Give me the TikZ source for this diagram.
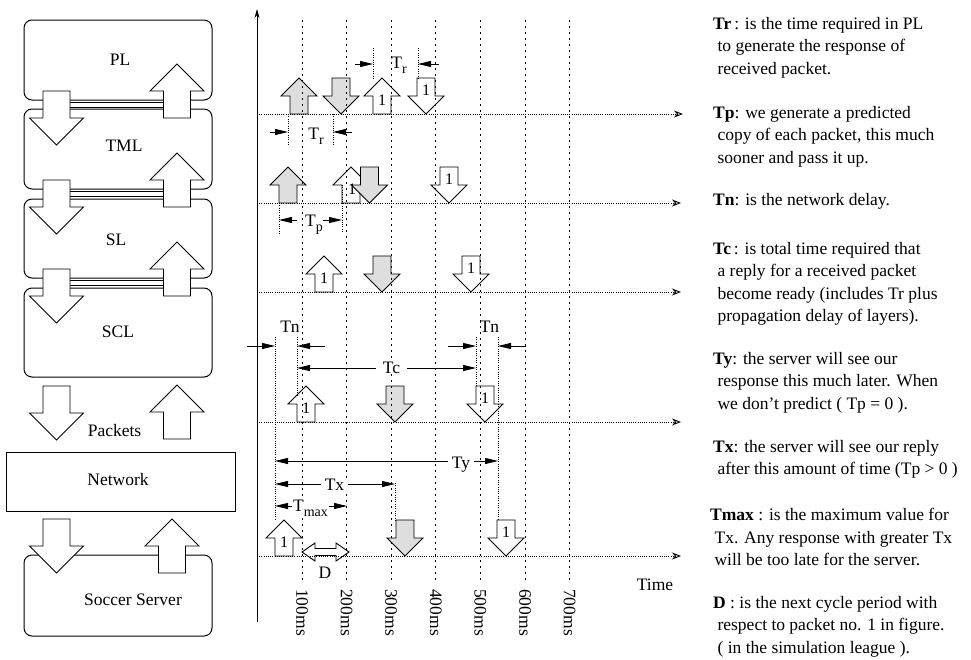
\documentclass[tikz,border=0pt]{standalone}
\usepackage{fontspec}
\setmainfont{Liberation Serif}
\usetikzlibrary{arrows.meta}
\newcommand{\BUp}[4][]{%
  \draw[blk,#1] ({#2-#4/4},{#3}) -- ({#2-#4/4},{#3-#4/2}) -- ({#2-#4/2},{#3-#4/2}) -- ({#2},{#3-#4}) -- ({#2+#4/2},{#3-#4/2}) -- ({#2+#4/4},{#3-#4/2}) -- ({#2+#4/4},{#3}) -- cycle;}
\newcommand{\BDown}[4][]{%
  \draw[blk,#1] ({#2-#4/4},{#3-#4}) -- ({#2-#4/4},{#3-#4/2}) -- ({#2-#4/2},{#3-#4/2}) -- ({#2},{#3}) -- ({#2+#4/2},{#3-#4/2}) -- ({#2+#4/4},{#3-#4/2}) -- ({#2+#4/4},{#3-#4}) -- cycle;}
\newcommand{\sbs}[1]{\raisebox{-5pt}{\fontsize{14}{14}\selectfont #1}}
\newcommand{\ind}{\hspace*{0.25em}}
\begin{document}
\begin{tikzpicture}[x=1pt,y=-1pt,
  box/.style={draw,line width=1pt,rounded corners=8pt,inner sep=0pt,minimum width=188pt},
  blk/.style={draw,line width=0.9pt,fill=white,line join=miter},
  grayfill/.style={fill=black!13},
  lbl/.style={font=\fontsize{17.5}{20}\selectfont,inner sep=0pt},
  dlbl/.style={lbl,anchor=base,fill=white,inner xsep=4pt,inner ysep=1pt},
  one/.style={font=\fontsize{16}{16}\selectfont,inner sep=0pt,anchor=base},
  link/.style={line width=1pt},
  rowline/.style={line width=0.9pt,dash pattern=on 1pt off 1.2pt,-{Stealth[open,length=9pt,width=7pt]}},
  tline/.style={line width=1pt,dash pattern=on 1.5pt off 4.5pt},
  ext/.style={line width=0.7pt,dash pattern=on 0.8pt off 1.5pt},
  dim/.style={line width=0.8pt,-{Triangle[length=13pt,width=6pt]}},
  dimboth/.style={line width=0.8pt,{Triangle[length=13pt,width=6pt]}-{Triangle[length=13pt,width=6pt]}},
  desc/.style={anchor=north west,align=left,inner sep=0pt,font=\fontsize{17.5}{22.5}\selectfont},
]
\useasboundingbox (0,0) rectangle (971,659);

% ---------------- left column ----------------
\node[box,minimum height=80pt] (PL) at (118,60) {};
\node[box,minimum height=80pt] (TML) at (118,149) {};
\node[box,minimum height=79pt] (SL) at (118,238.5) {};
\node[box,minimum height=89pt] (SCL) at (118,332.5) {};
\node[draw,line width=1pt,minimum width=229pt,minimum height=59pt,inner sep=0pt] (NET) at (120.5,481.5) {};
\node[box,minimum height=81pt] (SS) at (118,595.5) {};

\foreach \k/\ya/\yb in {1/102/107,2/191/196,3/280/285} {
  \coordinate (la\k) at (56,\ya); \coordinate (lb\k) at (177,\ya);
  \coordinate (lc\k) at (56,\yb); \coordinate (ld\k) at (177,\yb);
  \draw[link] (la\k) -- (lb\k);
  \draw[link] (lc\k) -- (ld\k);
}

\BDown{56.5}{145}{54} \BUp{177}{118}{54}
\BDown{56.5}{234}{54} \BUp{177}{207}{54}
\BDown{56.5}{323}{54} \BUp{177}{296}{54}
\BDown{56.5}{440}{54} \BUp{177}{439}{54}
\BDown{56.5}{573}{54} \BUp{172}{573}{54}

\node[lbl,anchor=base] (tPL) at (120,65.5) {PL};
\node[lbl,anchor=base] (tTML) at (124,151) {TML};
\node[lbl,anchor=base] (tSL) at (116,245) {SL};
\node[lbl,anchor=base] (tSCL) at (118,337) {SCL};
\node[lbl,anchor=base] (tPk) at (114.5,436) {Packets};
\node[lbl,anchor=base] (tNet) at (118,485) {Network};
\node[lbl,anchor=base] (tSS) at (133,605) {Soccer Server};

% ---------------- timeline: block arrows ----------------
% row 1
\BUp[grayfill]{299}{114}{36}
\BDown[grayfill]{341}{114}{36}
\BUp{382}{114}{36} \node[one] (o1a) at (382,105.5) {1};
\BDown{426}{114}{36} \node[one] (o1b) at (426,95) {1};
% row 2
\BUp[grayfill]{288}{203}{36}
\BUp{351}{203}{36} \node[one] (o2a) at (352,194.5) {1};
\BDown[grayfill]{369.5}{203}{36}
\BDown{449}{203}{36} \node[one] (o2b) at (449,184) {1};
% row 3
\BUp{324}{292}{36} \node[one] (o3a) at (324,283.5) {1};
\BDown[grayfill]{382}{292}{36}
\BDown{471}{292}{36} \node[one] (o3b) at (471,273) {1};
% row 4
\BUp{306}{422}{36} \node[one] (o4a) at (306,413.5) {1};
\BDown[grayfill]{395}{422}{36}
\BDown{485}{422}{36} \node[one] (o4b) at (485,403) {1};
% row 5
\BUp{284}{556}{36} \node[one] (o5a) at (284,547.5) {1};
\BDown[grayfill]{405}{556}{36}
\BDown{506}{556}{36} \node[one] (o5b) at (506,537) {1};
% D double arrow
\draw[blk] (302,552) -- (315,543) -- (315,548.5) -- (336,548.5) -- (336,543) -- (349,552) -- (336,561) -- (336,555.5) -- (315,555.5) -- (315,561) -- cycle;

% ---------------- grid lines ----------------
\foreach \i/\lab in {0/100,1/200,2/300,3/400,4/500,5/600,6/700} {
  \coordinate (vt\i) at ({302+44.6*\i},20);
  \coordinate (vb\i) at ({302+44.6*\i},583);
  \draw[tline] (vt\i) -- (vb\i);
  \node[lbl,rotate=-90,anchor=west] (ms\i) at ({302+44.6*\i},589) {\lab ms};
}
\foreach \i/\y/\e in {1/114/683,2/203/681,3/292/681,4/422/681,5/556/681} {
  \coordinate (rs\i) at (257,\y);
  \coordinate (re\i) at (\e,\y);
  \draw[rowline] (rs\i) -- (re\i);
}
\coordinate (ax0) at (257,622); \coordinate (ax1) at (257,9);
\draw[line width=0.9pt,-{Stealth[length=9pt,width=5pt]}] (ax0) -- (ax1);

% extension lines
\draw[ext] (373,48) -- (373,80);
\draw[ext] (418,48) -- (418,78);
\draw[ext] (288,114) -- (288,145);
\draw[ext] (333,114) -- (333,145);
\draw[ext] (279,203) -- (279,233);
\draw[ext] (342,185) -- (342,233);
\draw[ext] (275,337) -- (275,520);
\draw[ext] (297,337) -- (297,395);
\draw[ext] (476,337) -- (476,386);
\draw[ext] (498,337) -- (498,520);
\draw[ext] (395,483) -- (395,520);

% ---------------- dimension arrows ----------------
\coordinate (a1) at (355,64); \coordinate (b1) at (373,64);
\coordinate (a2) at (439,64); \coordinate (b2) at (418,64);
\draw[dim] (a1) -- (b1); \draw[dim] (a2) -- (b2);
\node[lbl,anchor=base] (Tr1) at (399,68) {T\sbs{r}};

\coordinate (a3) at (270,132); \coordinate (b3) at (288,132);
\coordinate (a4) at (352,132); \coordinate (b4) at (333,132);
\draw[dim] (a3) -- (b3); \draw[dim] (a4) -- (b4);
\node[lbl,anchor=base] (Tr2) at (316,139) {T\sbs{r}};

\coordinate (a5) at (297,220); \coordinate (b5) at (279,220);
\coordinate (a6) at (323,220); \coordinate (b6) at (342,220);
\draw[dim] (a5) -- (b5); \draw[dim] (a6) -- (b6);
\node[lbl,anchor=base] (Tp) at (314,226) {T\sbs{p}};

\coordinate (a7) at (247,346); \coordinate (b7) at (275,346);
\coordinate (a8) at (325,346); \coordinate (b8) at (297,346);
\draw[dim] (a7) -- (b7); \draw[dim] (a8) -- (b8);
\node[lbl,anchor=base] (Tn1) at (290,332) {Tn};

\coordinate (a9) at (448,346); \coordinate (b9) at (476,346);
\coordinate (a10) at (526,346); \coordinate (b10) at (498,346);
\draw[dim] (a9) -- (b9); \draw[dim] (a10) -- (b10);
\node[lbl,anchor=base] (Tn2) at (489.5,332) {Tn};

\coordinate (c1) at (297,368); \coordinate (c2) at (476,368);
\draw[dimboth] (c1) -- (c2);
\node[dlbl,inner xsep=7pt] (Tc) at (391.5,373) {Tc};

\coordinate (y1) at (275,461); \coordinate (y2) at (498,461);
\draw[dimboth] (y1) -- (y2);
\node[dlbl] (Ty) at (461,468) {Ty};

\coordinate (x1) at (275,484); \coordinate (x2) at (395,484);
\draw[dimboth] (x1) -- (x2);
\node[dlbl] (Tx) at (334.5,490) {Tx};

\coordinate (m1) at (275,506); \coordinate (m2) at (347,506);
\draw[dimboth] (m1) -- (m2);
\node[dlbl,inner xsep=1pt] (Tm) at (310.5,511.5) {T\sbs{max}};

\node[lbl,anchor=base] (D) at (325,578) {D};
\node[lbl,anchor=base] (Time) at (655,590) {Time};

% ---------------- descriptions ----------------
\node[desc] (dTr) at (713,17) {\textbf{Tr}\,: is the time required in PL\\\ind to generate the response of\\\ind received packet.};
\node[desc] (dTp) at (713,106) {\textbf{Tp}: we generate a predicted\\\ind copy of each packet, this much\\\ind sooner and pass it up.};
\node[desc] (dTn) at (713,193) {\textbf{Tn}: is the network delay.};
\node[desc] (dTc) at (713,242) {\textbf{Tc}\,: is total time required that\\\ind a reply for a received packet\\\ind become ready (includes Tr plus\\\ind propagation delay of layers).};
\node[desc] (dTy) at (713,352) {\textbf{Ty}: the server will see our\\\ind response this much later. When\\\ind we don’t predict ( Tp = 0 ).};
\node[desc] (dTx) at (713,440) {\textbf{Tx}: the server will see our reply\\\ind after this amount of time (Tp > 0 )};
\node[desc] (dTm) at (710,508) {\textbf{Tmax} : is the maximum value for\\\ind Tx. Any response with greater Tx\\\ind will be too late for the server.};
\node[desc] (dD) at (713,596) {\textbf{D} : is the next cycle period with\\\ind respect to packet no. 1 in figure.\\\ind ( in the simulation league ).};
\end{tikzpicture}
\end{document}
